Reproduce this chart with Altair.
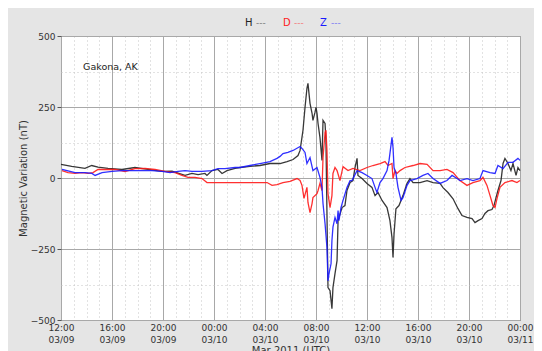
import altair as alt
import pandas as pd

START = pd.Timestamp("2011-03-09T12:00:00Z")

# hours after 2011-03-09 12:00 UTC, values in nT
h_hours = [0, 0.84, 1.88, 2.41, 2.9, 3.69, 4.78, 5.8, 6.82, 7.92, 8.71, 9.18, 9.73, 10.27, 10.75,
           11.29, 11.45, 11.84, 12.31, 12.63, 13.02, 13.65, 14.04, 14.82, 15.61, 16.39, 17.18, 17.73,
           18.2, 18.59, 18.75, 18.9, 18.98, 19.14, 19.29, 19.37, 19.53, 19.69, 19.76, 19.92, 20.0,
           20.08, 20.16, 20.31, 20.47, 20.55, 20.71, 20.78, 20.86, 20.94, 21.1, 21.25, 21.33, 21.49,
           21.65, 21.73, 22.04, 22.27, 22.43, 22.67, 22.9, 23.06, 23.22, 23.29, 23.61, 24.0, 24.39,
           24.63, 24.86, 25.18, 25.57, 25.8, 25.96, 26.04, 26.12, 26.27, 26.51, 26.82, 27.14, 27.37,
           27.61, 28.16, 28.71, 29.18, 29.73, 29.96, 30.35, 30.75, 31.14, 31.45, 31.84, 32.24, 32.47,
           32.71, 33.02, 33.25, 33.49, 33.8, 33.96, 34.12, 34.27, 34.51, 34.67, 34.82, 35.06, 35.29,
           35.45, 35.69, 35.84, 36.0]
h_vals = [48, 41, 34, 44, 38, 34, 30, 37, 30, 23, 24, 17, 9, 16, 12,
          16, 9, 26, 30, 16, 26, 34, 37, 41, 44, 51, 51, 58,
          65, 79, 97, 143, 168, 249, 316, 333, 263, 228, 203, 231, 249,
          228, 192, 143, 62, 203, 192, 132, -125, -386, -397, -460, -386, -337,
          -291, -150, -104, -97, -44, -16, -9, 37, 69, 9, -2, -19, -33,
          -62, -51, -79, -104, -150, -210, -280, -197, -108, -97, -62, -19, -2,
          -16, -16, -9, -16, -19, -34, -51, -73, -108, -132, -139, -143, -157,
          -150, -143, -125, -115, -111, -97, -69, -44, -9, 51, 69, 51, 26,
          51, 9, 37, 26]

d_hours = [0.08, 0.55, 1.1, 1.65, 2.12, 2.51, 2.9, 3.45, 4.24, 5.02, 5.8, 6.59, 7.37, 8.16, 8.94,
           9.49, 9.96, 10.51, 11.06, 11.45, 12.08, 12.86, 13.65, 15.06, 16.16, 16.55, 16.94, 17.41,
           17.96, 18.51, 18.75, 18.9, 19.06, 19.29, 19.37, 19.53, 19.69, 19.76, 20.08, 20.16, 20.31,
           20.47, 20.55, 20.71, 20.78, 20.86, 20.94, 21.1, 21.25, 21.33, 21.49, 21.65, 21.88, 22.12,
           22.51, 22.9, 23.45, 24.0, 24.47, 25.02, 25.41, 25.65, 25.96, 26.04, 26.2, 26.35, 26.59,
           26.98, 27.61, 28.16, 28.71, 29.18, 29.73, 30.27, 30.75, 31.29, 31.84, 32.31, 32.86, 33.1,
           33.41, 33.65, 33.88, 34.04, 34.2, 34.43, 34.82, 35.37, 35.76, 36.0]
d_vals = [26, 19, 16, 19, 16, 19, 30, 30, 30, 23, 33, 34, 30, 23, 19,
          9, 2, 2, -2, -16, -16, -16, -16, -16, -16, -26, -23, -16,
          -12, -2, -9, -26, -72, -33, -86, -122, -90, -69, -55, -44, -19,
          -44, 72, 160, 168, 97, -55, -104, -62, 16, 37, 26, -9, 40,
          26, 34, 26, 37, 44, 51, 58, 44, 51, -2, 26, 16, 26,
          37, 44, 51, 48, 26, 26, 30, 19, -9, -26, -16, -9, 2,
          -26, -62, -97, -104, -72, -33, -16, -9, -16, -9]

z_hours = [0.08, 1.1, 1.88, 2.43, 2.67, 3.22, 4.0, 4.78, 5.57, 6.35, 7.14, 7.92, 8.55, 9.18, 9.73,
           10.27, 11.06, 11.84, 12.31, 12.86, 13.65, 14.04, 14.82, 15.61, 16.39, 16.94, 17.18, 17.41,
           17.8, 18.2, 18.75, 18.9, 19.14, 19.29, 19.53, 19.76, 20.08, 20.31, 20.47, 20.55, 20.71,
           20.86, 20.94, 21.02, 21.18, 21.25, 21.33, 21.49, 21.65, 21.73, 21.8, 21.96, 22.12, 22.43,
           22.67, 22.82, 23.22, 23.61, 24.0, 24.39, 24.63, 24.78, 25.02, 25.25, 25.57, 25.73, 25.96,
           26.04, 26.12, 26.27, 26.43, 26.67, 26.82, 27.14, 27.37, 27.92, 28.39, 28.78, 29.18, 29.73,
           30.27, 30.67, 31.06, 31.29, 31.84, 32.31, 32.86, 33.1, 33.65, 34.04, 34.27, 34.67, 35.06,
           35.45, 35.84, 36.0]
z_vals = [30, 19, 19, 16, 9, 19, 23, 26, 26, 26, 26, 23, 19, 23, 26,
          23, 23, 26, 33, 33, 37, 37, 44, 51, 58, 69, 76, 86,
          90, 97, 111, 104, 90, 51, 72, 26, 37, 2, -33, -90, -161,
          -245, -362, -337, -302, -220, -173, -139, -161, -115, -150, -104, -79, -33,
          -9, -9, 26, 19, 9, -2, -33, -51, -16, -2, 26, 62, 143,
          108, 37, 16, -33, -79, -69, -26, -9, -2, 9, 16, -2, -19,
          -9, 9, -2, -9, -2, -9, -2, 26, 19, 16, 44, 33, 55,
          55, 69, 62]

names = ["H", "D", "Z"]
colors = ["#222222", "#ff1a1a", "#1a1aff"]
tick_hours = [0, 4, 8, 12, 16, 20, 24, 28, 32, 36]
minor_hours = list(range(0, 37))
y_major = [-500, -250, 0, 250, 500]
y_minor = [-375, -125, 125, 375]
station = "Gakona, AK"
station_pos = (1.73, 390)

FONT = "DejaVu Sans"


def iso(h):
    return (START + pd.Timedelta(hours=h)).strftime("%Y-%m-%dT%H:%M:%SZ")


def dt(h):
    t = START + pd.Timedelta(hours=h)
    return alt.DateTime(year=t.year, month=t.month, date=t.day, hours=t.hour, utc=True)


frames = []
for nm, hs, vs in zip(names, [h_hours, d_hours, z_hours], [h_vals, d_vals, z_vals]):
    frames.append(pd.DataFrame({"time": [iso(x) for x in hs], "value": vs, "component": nm}))
df = pd.concat(frames, ignore_index=True)

xs = alt.Scale(type="utc", domain=[dt(0), dt(36)])
ys = alt.Scale(domain=[-500, 500], nice=False)

minor_x = alt.Axis(orient="bottom", values=[dt(h) for h in minor_hours], grid=True, gridColor="#c4c4c4",
                   gridDash=[1, 3], gridWidth=1, labels=False, ticks=False, domain=False, title=None)
minor_y = alt.Axis(orient="left", values=y_minor, grid=True, gridColor="#c4c4c4", gridDash=[1, 3],
                   gridWidth=1, labels=False, ticks=False, domain=False, title=None)

major_x = alt.Axis(orient="bottom", values=[dt(h) for h in tick_hours], grid=True, gridColor="#a8a8a8",
                   gridWidth=1, ticks=False, domain=False, labelFlush=False, labelOverlap=False,
                   labelExpr="[utcFormat(datum.value, '%H:%M'), utcFormat(datum.value, '%m/%d')]",
                   labelFont=FONT, labelFontSize=9, labelColor="#333333", labelLineHeight=12,
                   labelPadding=3, title="Mar 2011 (UTC)", titleFont=FONT, titleFontSize=10,
                   titleFontWeight="normal", titleColor="#333333", titleY=30, titleBaseline="middle")
major_y = alt.Axis(orient="left", values=y_major, grid=True, gridColor="#a8a8a8", gridWidth=1,
                   ticks=True, tickSize=4, tickColor="#555555", domain=False, labelFlush=False,
                   labelFont=FONT, labelFontSize=9, labelColor="#333333", labelPadding=2,
                   title="Magnetic Variation (nT)", titleFont=FONT, titleFontSize=10,
                   titleFontWeight="normal", titleColor="#333333", titleAngle=270, titleX=-38,
                   titleY=142, titleAlign="center", titleBaseline="middle")

grid_layer = alt.Chart(df).mark_line(opacity=0).encode(
    x=alt.X("time:T", scale=xs, axis=minor_x),
    y=alt.Y("value:Q", scale=ys, axis=minor_y),
    detail="component:N",
)

lines = alt.Chart(df).mark_line(strokeWidth=1.3, opacity=0.9).encode(
    x=alt.X("time:T", scale=xs, axis=major_x),
    y=alt.Y("value:Q", scale=ys, axis=major_y),
    color=alt.Color("component:N", scale=alt.Scale(domain=names, range=colors), legend=None),
    order=alt.Order("time:T"),
)

label_df = pd.DataFrame({"time": [iso(station_pos[0])], "value": [station_pos[1]], "text": [station]})
label = alt.Chart(label_df).mark_text(align="left", baseline="middle", font=FONT, fontSize=9.5,
                                       color="#222222").encode(
    x=alt.X("time:T", scale=xs, axis=None),
    y=alt.Y("value:Q", scale=ys, axis=None),
    text="text:N",
)

legend_layers = []
legend_x = [184, 222, 259]
for nm, col, lx in zip(names, colors, legend_x):
    ldf = pd.DataFrame({"t": [nm], "d": ["---"]})
    legend_layers.append(
        alt.Chart(ldf).mark_text(align="left", baseline="middle", font=FONT, fontSize=10,
                                 color=col).encode(x=alt.value(lx), y=alt.value(-13.5), text="t:N"))
    legend_layers.append(
        alt.Chart(ldf).mark_text(align="left", baseline="middle", font=FONT, fontSize=9,
                                 color=col, opacity=0.55).encode(x=alt.value(lx + 11), y=alt.value(-13.5),
                                                                 text="d:N"))

chart = alt.layer(grid_layer, lines, label, *legend_layers).resolve_axis(
    x="independent", y="independent"
).properties(
    width=459,
    height=284,
    padding={"left": 53, "top": 28, "right": 14, "bottom": 31},
    autosize=alt.AutoSizeParams(type="none"),
    background="#e5e5e5",
).configure_view(fill="white", stroke="#555555", strokeWidth=1)

chart.save("out.html", embed_options={"renderer": "svg", "actions": False})
